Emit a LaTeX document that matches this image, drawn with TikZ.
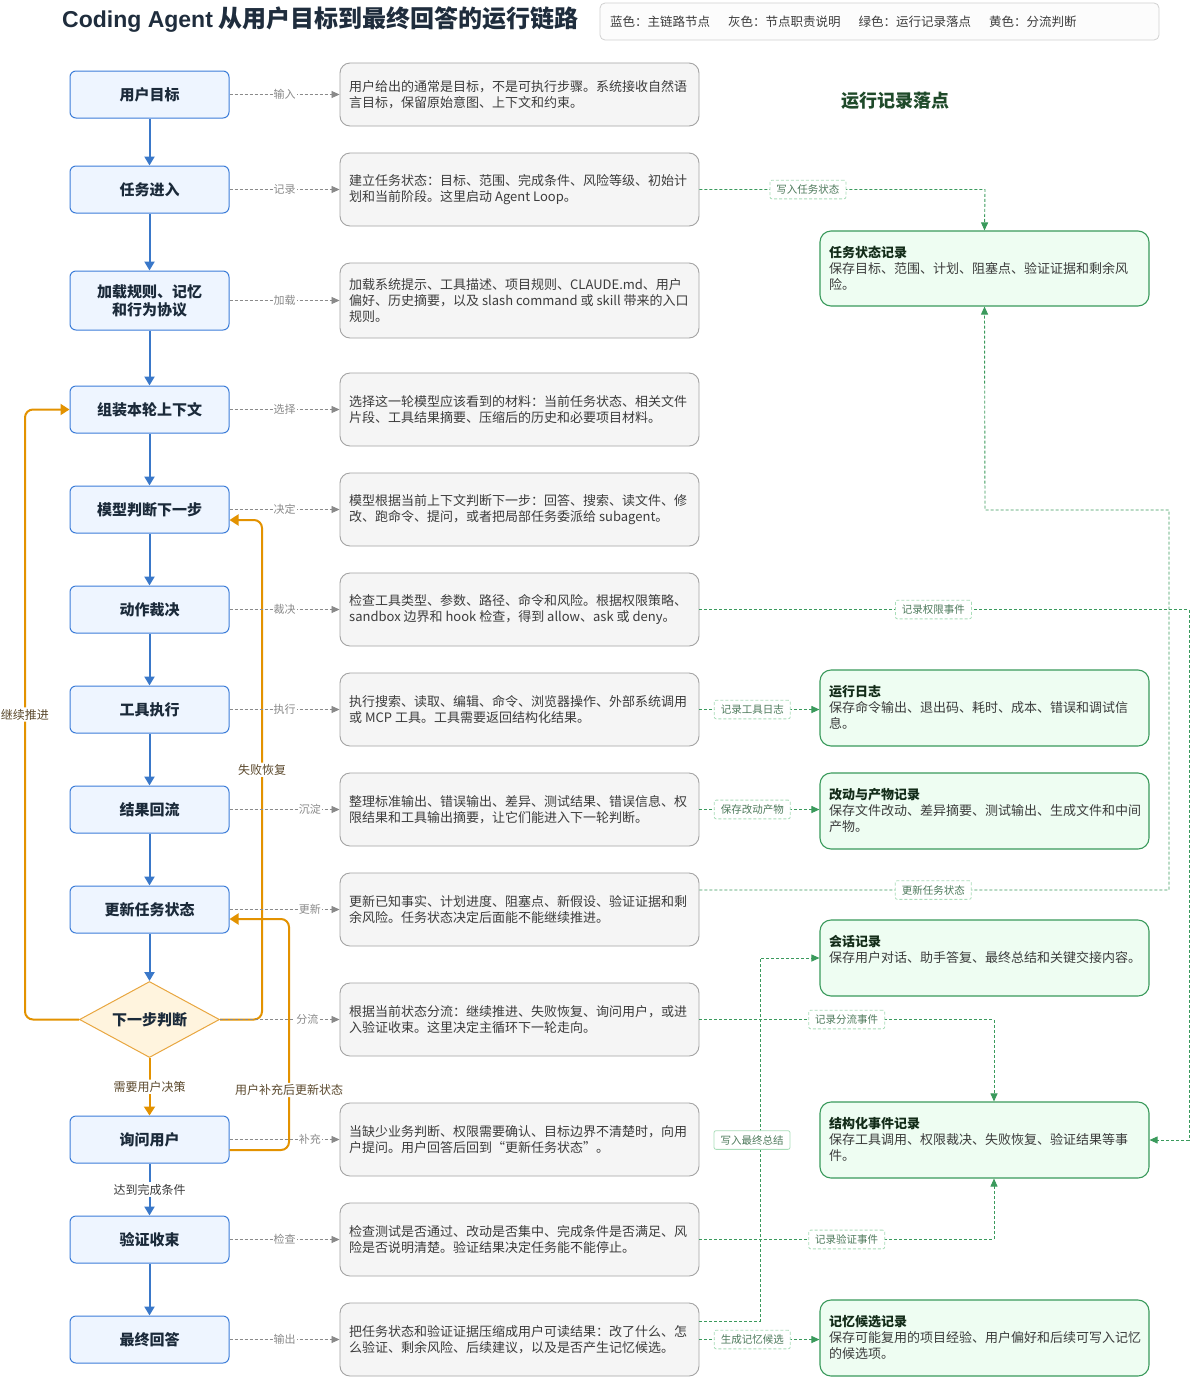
\documentclass[tikz,border=0pt]{standalone}
\usepackage{fontspec}
\setmainfont{Noto Sans CJK SC}
\newfontfamily\latinsans{Liberation Sans}
\usetikzlibrary{arrows.meta,shapes.geometric}
\definecolor{blueB}{HTML}{3C7DD9}
\definecolor{blueF}{HTML}{EEF5FF}
\definecolor{blueA}{HTML}{3A78C9}
\definecolor{navyT}{HTML}{1B2A3A}
\definecolor{grayB}{HTML}{A3A3A3}
\definecolor{grayF}{HTML}{F5F5F5}
\definecolor{grayT}{HTML}{3C3C3C}
\definecolor{grayL}{HTML}{8A8A8A}
\definecolor{greenB}{HTML}{3A9A5C}
\definecolor{greenF}{HTML}{EEFDF2}
\definecolor{greenL}{HTML}{A9DDB9}
\definecolor{greenT}{HTML}{4E7A5C}
\definecolor{greenH}{HTML}{1F4A2A}
\definecolor{orangeA}{HTML}{E39200}
\definecolor{orangeT}{HTML}{5C4A2E}
\definecolor{diaF}{HTML}{FFF4DE}
\definecolor{diaB}{HTML}{E8A63F}
\definecolor{titleT}{HTML}{1F2D3D}
\begin{document}
\begin{tikzpicture}[x=1pt,y=-1pt,
  mainbox/.style={draw=blueB, fill=blueF, rounded corners=6pt, line width=1pt,
    minimum width=159pt, minimum height=47pt, inner sep=0pt, align=center,
    font=\fontsize{15}{18}\selectfont\bfseries, text=navyT},
  decision/.style={diamond, draw=diaB, fill=diaF, line width=1pt, aspect=1.84,
    minimum width=140pt, minimum height=76pt, inner sep=0pt,
    font=\fontsize{15}{18}\selectfont\bfseries, text=navyT},
  descbox/.style={draw=grayB, fill=grayF, rounded corners=10pt, line width=0.9pt,
    minimum width=359pt, minimum height=73pt, inner sep=0pt},
  desctext/.style={anchor=west, align=left, inner sep=0pt,
    font=\fontsize{13}{16}\selectfont, text=grayT},
  recbox/.style={draw=greenB, fill=greenF, rounded corners=11pt, line width=1.1pt,
    minimum width=329pt, minimum height=76pt, inner sep=0pt},
  rectext/.style={anchor=north west, align=left, inner sep=0pt,
    font=\fontsize{13}{16}\selectfont, text=grayT},
  bconn/.style={draw=blueA, line width=2pt, -{Triangle[length=9pt,width=10pt]}},
  gconn/.style={draw=grayL, line width=0.8pt, dash pattern=on 3pt off 2pt,
    -{Triangle[length=8pt,width=7pt]}},
  glab/.style={fill=white, inner sep=1pt, font=\fontsize{11}{12}\selectfont, text=grayL},
  oconn/.style={draw=orangeA, line width=2pt, rounded corners=8pt,
    -{Triangle[length=9pt,width=11pt]}},
  olab/.style={fill=white, inner sep=1.5pt, font=\fontsize{12}{14}\selectfont, text=orangeT},
  rconn/.style={draw=greenB, line width=0.9pt, dash pattern=on 3pt off 2pt,
    -{Triangle[length=8pt,width=7pt]}},
  gtag/.style={draw=greenL, fill=white, rounded corners=2pt, line width=0.8pt,
    inner xsep=6.5pt, inner ysep=4.5pt, font=\fontsize{10.5}{12}\selectfont, text=greenT}
]
\useasboundingbox (0,0) rectangle (1198,1377);
\fill[white] (0,0) rectangle (1198,1377);

% title and legend
\node[anchor=west, inner sep=0pt, font=\fontsize{24}{26}\selectfont\bfseries, text=titleT] (title) at (62,20) {{\latinsans\fontsize{23}{26}\selectfont\bfseries Coding Agent}\hspace{6pt}从用户目标到最终回答的运行链路};
\node[draw=black!18, fill=black!1, rounded corners=5pt, line width=0.8pt, minimum width=559pt, minimum height=37pt, inner sep=0pt] (legendbox) at (879.5,21.5) {};
\node[anchor=west, inner sep=0pt, font=\fontsize{12.5}{14}\selectfont, text=grayT] (legend) at (610,21.5) {蓝色：主链路节点\hspace{18pt}灰色：节点职责说明\hspace{18pt}绿色：运行记录落点\hspace{18pt}黄色：分流判断};
\node[inner sep=0pt, font=\fontsize{18}{20}\selectfont\bfseries, text=greenH] (rechead) at (895,101) {运行记录落点};

% main chain
\node[mainbox] (n1) at (149.5,94.5) {用户目标};
\node[mainbox] (n2) at (149.5,189.5) {任务进入};
\node[mainbox, minimum height=59pt] (n3) at (149.5,300.5) {加载规则、记忆\\和行为协议};
\node[mainbox] (n4) at (149.5,409.5) {组装本轮上下文};
\node[mainbox] (n5) at (149.5,509.5) {模型判断下一步};
\node[mainbox] (n6) at (149.5,609.5) {动作裁决};
\node[mainbox] (n7) at (149.5,709.5) {工具执行};
\node[mainbox] (n8) at (149.5,809.5) {结果回流};
\node[mainbox] (n9) at (149.5,909.5) {更新任务状态};
\node[decision] (dia) at (149.5,1019.5) {下一步判断};
\node[mainbox] (n11) at (149.5,1139.5) {询问用户};
\node[mainbox] (n12) at (149.5,1239.5) {验证收束};
\node[mainbox] (n13) at (149.5,1339.5) {最终回答};

% description boxes
\node[descbox, minimum height=63pt] (d1) at (519.5,94.5) {};
\node[desctext] (t1) at (349,94.5) {用户给出的通常是目标，不是可执行步骤。系统接收自然语\\言目标，保留原始意图、上下文和约束。};
\node[descbox] (d2) at (519.5,189.5) {};
\node[desctext] (t2) at (349,189.5) {建立任务状态：目标、范围、完成条件、风险等级、初始计\\划和当前阶段。这里启动 Agent Loop。};
\node[descbox, minimum height=75pt] (d3) at (519.5,300.5) {};
\node[desctext] (t3) at (349,300.5) {加载系统提示、工具描述、项目规则、CLAUDE.md、用户\\偏好、历史摘要，以及 slash command 或 skill 带来的入口\\规则。};
\node[descbox] (d4) at (519.5,409.5) {};
\node[desctext] (t4) at (349,409.5) {选择这一轮模型应该看到的材料：当前任务状态、相关文件\\片段、工具结果摘要、压缩后的历史和必要项目材料。};
\node[descbox] (d5) at (519.5,509.5) {};
\node[desctext] (t5) at (349,509.5) {模型根据当前上下文判断下一步：回答、搜索、读文件、修\\改、跑命令、提问，或者把局部任务委派给 subagent。};
\node[descbox] (d6) at (519.5,609.5) {};
\node[desctext] (t6) at (349,609.5) {检查工具类型、参数、路径、命令和风险。根据权限策略、\\sandbox 边界和 hook 检查，得到 allow、ask 或 deny。};
\node[descbox] (d7) at (519.5,709.5) {};
\node[desctext] (t7) at (349,709.5) {执行搜索、读取、编辑、命令、浏览器操作、外部系统调用\\或 MCP 工具。工具需要返回结构化结果。};
\node[descbox] (d8) at (519.5,809.5) {};
\node[desctext] (t8) at (349,809.5) {整理标准输出、错误输出、差异、测试结果、错误信息、权\\限结果和工具输出摘要，让它们能进入下一轮判断。};
\node[descbox] (d9) at (519.5,909.5) {};
\node[desctext] (t9) at (349,909.5) {更新已知事实、计划进度、阻塞点、新假设、验证证据和剩\\余风险。任务状态决定后面能不能继续推进。};
\node[descbox] (d10) at (519.5,1019.5) {};
\node[desctext] (t10) at (349,1019.5) {根据当前状态分流：继续推进、失败恢复、询问用户，或进\\入验证收束。这里决定主循环下一轮走向。};
\node[descbox] (d11) at (519.5,1139.5) {};
\node[desctext] (t11) at (349,1139.5) {当缺少业务判断、权限需要确认、目标边界不清楚时，向用\\户提问。用户回答后回到“更新任务状态”。};
\node[descbox] (d12) at (519.5,1239.5) {};
\node[desctext] (t12) at (349,1239.5) {检查测试是否通过、改动是否集中、完成条件是否满足、风\\险是否说明清楚。验证结果决定任务能不能停止。};
\node[descbox] (d13) at (519.5,1339.5) {};
\node[desctext] (t13) at (349,1339.5) {把任务状态和验证证据压缩成用户可读结果：改了什么、怎\\么验证、剩余风险、后续建议，以及是否产生记忆候选。};

% record boxes
\node[recbox, minimum height=75pt] (r1) at (984.5,268.5) {};
\node[rectext] (s1) at (829,246) {\textbf{\color{greenH!60!black}任务状态记录}\\保存目标、范围、计划、阻塞点、验证证据和剩余风\\险。};
\node[recbox] (r2) at (984.5,708) {};
\node[rectext] (s2) at (829,685.5) {\textbf{\color{greenH!60!black}运行日志}\\保存命令输出、退出码、耗时、成本、错误和调试信\\息。};
\node[recbox] (r3) at (984.5,811) {};
\node[rectext] (s3) at (829,788.5) {\textbf{\color{greenH!60!black}改动与产物记录}\\保存文件改动、差异摘要、测试输出、生成文件和中间\\产物。};
\node[recbox] (r4) at (984.5,958) {};
\node[rectext] (s4) at (829,935.5) {\textbf{\color{greenH!60!black}会话记录}\\保存用户对话、助手答复、最终总结和关键交接内容。};
\node[recbox] (r5) at (984.5,1140) {};
\node[rectext] (s5) at (829,1117.5) {\textbf{\color{greenH!60!black}结构化事件记录}\\保存工具调用、权限裁决、失败恢复、验证结果等事\\件。};
\node[recbox] (r6) at (984.5,1338) {};
\node[rectext] (s6) at (829,1315.5) {\textbf{\color{greenH!60!black}记忆候选记录}\\保存可能复用的项目经验、用户偏好和后续可写入记忆\\的候选项。};

% helper coordinates
\coordinate (cL) at (25,0);
\coordinate (cR1) at (262,0);
\coordinate (cR2) at (289,0);
\coordinate (n5r) at ([yshift=-10.5pt]n5.east);
\coordinate (n11r) at ([yshift=-10.5pt]n11.east);
\coordinate (n9r) at ([yshift=-9.5pt]n9.east);
\coordinate (gA) at (985,0);
\coordinate (gB) at (1189,0);
\coordinate (gC) at (1169,0);
\coordinate (gD) at (994,0);
\coordinate (gE) at (760,0);
\coordinate (gY) at (0,510);
\coordinate (d9u) at ([yshift=19.5pt]d9.east);
\coordinate (d13u) at ([yshift=18.5pt]d13.east);

% blue chain arrows
\draw[bconn] (n1) -- (n2);
\draw[bconn] (n2) -- (n3);
\draw[bconn] (n3) -- (n4);
\draw[bconn] (n4) -- (n5);
\draw[bconn] (n5) -- (n6);
\draw[bconn] (n6) -- (n7);
\draw[bconn] (n7) -- (n8);
\draw[bconn] (n8) -- (n9);
\draw[bconn] (n9) -- (dia);
\draw[bconn] (n11) -- node[fill=white, inner sep=1.5pt, font=\fontsize{12}{14}\selectfont, text=grayT] {达到完成条件} (n12);
\draw[bconn] (n12) -- (n13);

% orange loops
\draw[oconn] (dia.west) -- (dia.west -| cL) -- node[olab] {继续推进} (n4.west -| cL) -- (n4.west);
\draw[oconn] (dia.east) -- (dia.east -| cR1) -- node[olab] {失败恢复} (n5r -| cR1) -- (n5r);
\draw[oconn] (dia.south) -- node[olab] {需要用户决策} (n11.north);
\draw[oconn] (n11r) -- (n11r -| cR2) -- node[olab, pos=0.26] {用户补充后更新状态} (n9r -| cR2) -- (n9r);

% gray description connectors
\draw[gconn] (n1.east) -- node[glab] {输入} (d1.west);
\draw[gconn] (n2.east) -- node[glab] {记录} (d2.west);
\draw[gconn] (n3.east) -- node[glab] {加载} (d3.west);
\draw[gconn] (n4.east) -- node[glab] {选择} (d4.west);
\draw[gconn] (n5.east) -- node[glab] {决定} (d5.west);
\draw[gconn] (n6.east) -- node[glab] {裁决} (d6.west);
\draw[gconn] (n7.east) -- node[glab] {执行} (d7.west);
\draw[gconn] (n8.east) -- node[glab, pos=0.73] {沉淀} (d8.west);
\draw[gconn] (n9.east) -- node[glab, pos=0.73] {更新} (d9.west);
\draw[gconn] (dia.east) -- node[glab, pos=0.73] {分流} (d10.west);
\draw[gconn] (n11.east) -- node[glab, pos=0.73] {补充} (d11.west);
\draw[gconn] (n12.east) -- node[glab] {检查} (d12.west);
\draw[gconn] (n13.east) -- node[glab] {输出} (d13.west);

% green record connectors
\draw[rconn] (d2.east) -- node[gtag, pos=0.38] {写入任务状态} (d2.east -| gA) -- (r1.north);
\draw[rconn] (d6.east) -- node[gtag, pos=0.478] {记录权限事件} (d6.east -| gB) -- (r5.east -| gB) -- (r5.east);
\draw[rconn] (d7.east) -- node[gtag, pos=0.44] {记录工具日志} (d7.east -| r2.west);
\draw[rconn] (d8.east) -- node[gtag, pos=0.44] {保存改动产物} (d8.east -| r3.west);
\draw[rconn] (d9u) -- node[gtag, pos=0.498] {更新任务状态} (d9u -| gC) -- (gY -| gC) -- (gY -| gA) -- (r1.south);
\draw[rconn] (d10.east) -- node[gtag] {记录分流事件} (d10.east -| gD) -- (r5.north -| gD);
\draw[rconn] (d12.east) -- node[gtag] {记录验证事件} (d12.east -| gD) -- (r5.south -| gD);
\draw[rconn] (d13u) -- (d13u -| gE) -- (r4.west -| gE) -- (r4.west);
\node[gtag] (tagfinal) at (752,1140) {写入最终总结};
\draw[rconn] (d13.east) -- node[gtag, pos=0.44] {生成记忆候选} (d13.east -| r6.west);
\end{tikzpicture}
\end{document}
